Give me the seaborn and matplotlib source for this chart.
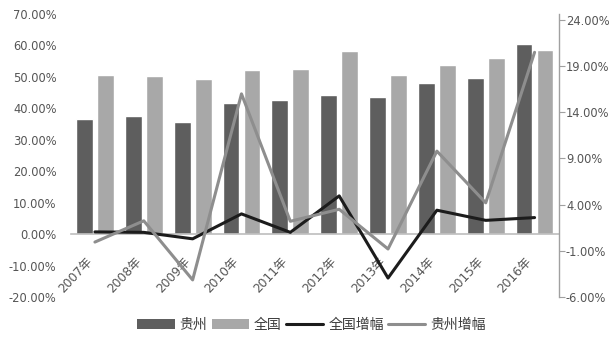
import numpy as np
import pandas as pd
import matplotlib
matplotlib.use("Agg")
import matplotlib.pyplot as plt
import seaborn as sns
from matplotlib.patches import Patch
from matplotlib.lines import Line2D
from matplotlib.ticker import FuncFormatter

years = ["2007年", "2008年", "2009年", "2010年", "2011年", "2012年", "2013年", "2014年", "2015年", "2016年"]
guizhou = [36.6, 37.6, 35.7, 41.7, 42.6, 44.2, 43.7, 48.2, 49.8, 60.6]
national = [50.7, 50.3, 49.4, 52.1, 52.5, 58.2, 50.5, 53.9, 55.9, 58.6]
national_growth = [1.05, 1.0, 0.3, 3.0, 1.0, 4.95, -3.95, 3.4, 2.3, 2.6]
guizhou_growth = [-0.05, 2.25, -4.15, 16.0, 2.2, 3.5, -0.8, 9.8, 4.2, 20.5]
left_ticks = [-20, -10, 0, 10, 20, 30, 40, 50, 60, 70]
right_ticks = [-6, -1, 4, 9, 14, 19, 24]
series_names = ["贵州", "全国", "全国增幅", "贵州增幅"]

c_dark = "#5e5e5e"
c_light = "#a8a8a8"
c_black = "#1c1c1c"
c_gray = "#8e8e8e"
txt = "#555555"

sns.set_style("white")
plt.rcParams["font.family"] = ["DejaVu Sans", "Noto Sans CJK SC"]

df = pd.DataFrame({
    "year": years * 2,
    "value": guizhou + national,
    "series": [series_names[0]] * len(years) + [series_names[1]] * len(years),
})

fig = plt.figure(figsize=(6.11, 3.40), dpi=100)
ax = fig.add_axes([0.1154, 0.1265, 0.9149 - 0.1154, 0.9588 - 0.1265])

sns.barplot(data=df, x="year", y="value", hue="series", palette=[c_dark, c_light],
            width=0.86, gap=0.2, ax=ax, legend=False, saturation=1)
ax.set_ylim(-20, 70)
ax.set_yticks(left_ticks)
ax.yaxis.set_major_formatter(FuncFormatter(lambda v, p: f"{v:.2f}%"))
ax.set_xlabel("")
ax.set_ylabel("")
for s in ["left", "top", "right"]:
    ax.spines[s].set_visible(False)
ax.spines["bottom"].set_position(("data", 0))
ax.spines["bottom"].set_color("#bdbdbd")
ax.spines["bottom"].set_linewidth(1.2)
ax.tick_params(axis="y", length=0, labelsize=8.3, labelcolor=txt, pad=10)
ax.tick_params(axis="x", length=0, labelsize=8.8, labelcolor=txt, pad=15)
for lab in ax.get_xticklabels():
    lab.set_rotation(47)
    lab.set_ha("right")
    lab.set_va("top")
ax.set_xlim(-0.5, len(years) - 0.5)

ax2 = ax.twinx()
xpos = np.arange(len(years))
sns.lineplot(x=xpos, y=national_growth, ax=ax2, color=c_black, linewidth=2.2)
sns.lineplot(x=xpos, y=guizhou_growth, ax=ax2, color=c_gray, linewidth=2.2)
ax2.set_ylim(-6, 24.65)
ax2.set_yticks(right_ticks)
ax2.yaxis.set_major_formatter(FuncFormatter(lambda v, p: f"{v:.2f}%"))
for s in ["left", "top", "bottom"]:
    ax2.spines[s].set_visible(False)
ax2.spines["right"].set_color("#a0a0a0")
ax2.spines["right"].set_linewidth(1.0)
ax2.tick_params(axis="y", length=4, color="#a0a0a0", labelsize=8.3, labelcolor=txt, pad=1)
ax2.set_xlim(-0.5, len(years) - 0.5)

handles = [
    Patch(facecolor=c_dark, edgecolor="none"),
    Patch(facecolor=c_light, edgecolor="none"),
    Line2D([0], [0], color=c_black, linewidth=2.2),
    Line2D([0], [0], color=c_gray, linewidth=2.2),
]
leg = fig.legend(handles, series_names, loc="center", bbox_to_anchor=(0.51, 0.045), ncol=4,
                 frameon=False, handlelength=2.7, handleheight=0.7,
                 handletextpad=0.35, columnspacing=0.3,
                 prop={"family": ["Noto Sans CJK SC", "DejaVu Sans"], "size": 10})
for t in leg.get_texts():
    t.set_color("#3a3a3a")

fig.savefig("out.png", dpi=100)
